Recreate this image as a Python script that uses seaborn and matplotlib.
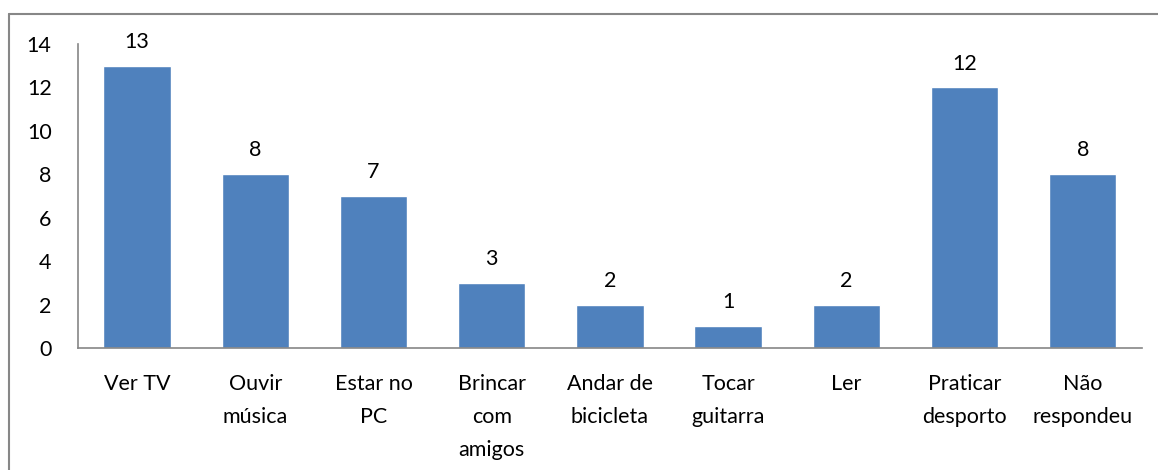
import numpy as np
import pandas as pd
import matplotlib
matplotlib.use("Agg")
import matplotlib.pyplot as plt
from matplotlib.lines import Line2D
import seaborn as sns

categories = ["Ver TV", "Ouvir\nmúsica", "Estar no\nPC", "Brincar\ncom\namigos",
              "Andar de\nbicicleta", "Tocar\nguitarra", "Ler", "Praticar\ndesporto",
              "Não\nrespondeu"]
values = [13, 8, 7, 3, 2, 1, 2, 12, 8]
y_ticks = [0, 2, 4, 6, 8, 10, 12, 14]

sns.set_style("white")
plt.rcParams["font.family"] = ["Lato", "DejaVu Sans"]

df = pd.DataFrame({"categoria": categories, "valor": values})

fig = plt.figure(figsize=(11.58, 4.70), dpi=100)
ax = fig.add_axes([0.0674, 0.2596, 0.9186, 0.6468])

sns.barplot(data=df, x="categoria", y="valor", color="#4F81BD", saturation=1,
            width=0.57, ax=ax)

for i, v in enumerate(values):
    ax.annotate(str(v), (i, v), xytext=(0, 10), textcoords="offset points",
                ha="center", va="bottom", fontsize=15.5, color="black")

ax.set_ylim(0, 14)
ax.set_yticks(y_ticks)
ax.set_xlim(-0.5, len(values) - 0.5)
ax.set_xlabel("")
ax.set_ylabel("")
ax.tick_params(axis="both", length=0, labelsize=15.5, colors="black")
ax.tick_params(axis="y", pad=19)
ax.tick_params(axis="x", pad=19)
for lab in ax.get_xticklabels():
    lab.set_linespacing(1.8)
    lab.set_verticalalignment("top")

for side in ["top", "right"]:
    ax.spines[side].set_visible(False)
for side in ["left", "bottom"]:
    ax.spines[side].set_color("#868686")
    ax.spines[side].set_linewidth(1.2)

# chart border (only top and left edges visible in the crop)
fig.add_artist(Line2D([9 / 1158, 9 / 1158], [0, 1 - 14 / 470], color="#878787", lw=1.5,
                      transform=fig.transFigure))
fig.add_artist(Line2D([9 / 1158, 1], [1 - 14 / 470, 1 - 14 / 470], color="#878787", lw=1.5,
                      transform=fig.transFigure))

fig.savefig("out.png", dpi=100)
